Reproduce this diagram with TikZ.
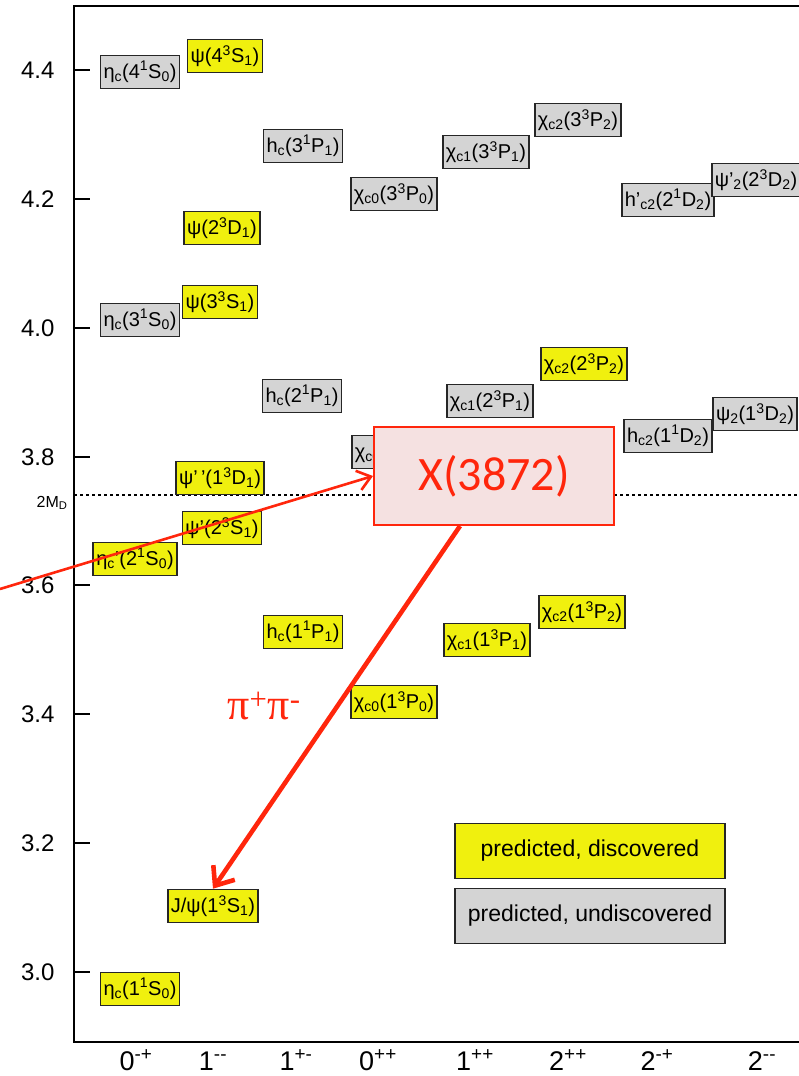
\documentclass[tikz,border=0pt]{standalone}
\usepackage{fontspec}
\setmainfont{Liberation Sans}
\newfontfamily\xfont{Carlito}
\newfontfamily\pifont{Liberation Serif}
\usepackage{tikz}
\usetikzlibrary{arrows.meta, positioning, calc}

\definecolor{seenyellow}{RGB}{240,240,14}
\definecolor{unseengray}{RGB}{212,212,212}
\definecolor{xred}{RGB}{255,38,12}
\definecolor{xpink}{RGB}{245,225,225}

\newcommand{\sbs}[1]{\textsubscript{#1}}
\newcommand{\sps}[1]{\textsuperscript{#1}}

\begin{document}
\begin{tikzpicture}[x=1pt, y=-1pt,
        state box/.style={draw=black!85, line width=1.6pt, inner xsep=3pt, inner ysep=0pt, minimum height=33pt, font=\fontsize{20}{24}\selectfont},
        seen state/.style={state box, fill=seenyellow},
        unseen state/.style={state box, fill=unseengray},
        key box/.style={minimum width=270pt, minimum height=55pt, font=\fontsize{23}{27}\selectfont},
        tick label/.style={anchor=east, font=\fontsize{24}{28}\selectfont},
        jpc label/.style={anchor=base, font=\fontsize{27}{32}\selectfont},
        arrow/.style={-{Straight Barb[length=13pt, width=20pt]}, xred, line width=2.6pt}
    ]
        \useasboundingbox (0,0) rectangle (799,1076);

        % frame and mass axis
        \draw[line width=1.8pt] (799,6) -- (74,6) -- (74,1042) -- (799,1042);
        \draw[line width=1.8pt] (74,70) -- ++(16,0);
        \draw[line width=1.8pt] (74,199) -- ++(16,0);
        \draw[line width=1.8pt] (74,328) -- ++(16,0);
        \draw[line width=1.8pt] (74,457) -- ++(16,0);
        \draw[line width=1.8pt] (74,585) -- ++(16,0);
        \draw[line width=1.8pt] (74,714) -- ++(16,0);
        \draw[line width=1.8pt] (74,843) -- ++(16,0);
        \draw[line width=1.8pt] (74,972) -- ++(16,0);
        \node[tick label] (m44) at (58,70) {4.4};
        \node[tick label] (m42) at (58,199) {4.2};
        \node[tick label] (m40) at (58,328) {4.0};
        \node[tick label] (m38) at (58,457) {3.8};
        \node[tick label] (m36) at (58,585) {3.6};
        \node[tick label] (m34) at (58,714) {3.4};
        \node[tick label] (m32) at (58,843) {3.2};
        \node[tick label] (m30) at (58,972) {3.0};

        % D Dbar threshold
        \draw[dash pattern=on 3pt off 3pt, line width=1.2pt] (74,495) -- (799,495);
        \node[anchor=east, font=\fontsize{16}{19}\selectfont] (dd) at (71,503) {2M\sbs{D}};

        % J^PC
        \node[jpc label] (q0mp) at (136,1070) {0\sps{-+}};
        \node[jpc label] (q1mm) at (213,1070) {1\sps{-{}-}};
        \node[jpc label] (q1pm) at (296,1070) {1\sps{+-}};
        \node[jpc label] (q0pp) at (378,1070) {0\sps{++}};
        \node[jpc label] (q1pp) at (475,1070) {1\sps{++}};
        \node[jpc label] (q2pp) at (568,1070) {2\sps{++}};
        \node[jpc label] (q2mp) at (657,1070) {2\sps{-+}};
        \node[jpc label] (q2mm) at (762,1070) {2\sps{-{}-}};

        % 0-+
        \node[unseen state] (etac4s) at (140,72) {η\sbs{c}(4\sps{1}S\sbs{0})};
        \node[unseen state] (etac3s) at (140,320) {η\sbs{c}(3\sps{1}S\sbs{0})};
        \node[seen state] (etac2s) at (135,559) {η\sbs{c}’(2\sps{1}S\sbs{0})};
        \node[seen state] (etac1s) at (140,989) {η\sbs{c}(1\sps{1}S\sbs{0})};
        % 1--
        \node[seen state] (psi4s) at (225,56) {ψ(4\sps{3}S\sbs{1})};
        \node[seen state] (psi2d) at (222,228) {ψ(2\sps{3}D\sbs{1})};
        \node[seen state] (psi3s) at (220,302) {ψ(3\sps{3}S\sbs{1})};
        \node[seen state] (psi1d) at (220,478) {ψ’\,’(1\sps{3}D\sbs{1})};
        \node[seen state] (psi2s) at (222,528) {ψ’(2\sps{3}S\sbs{1})};
        \node[seen state] (jpsi) at (213,906) {J/ψ(1\sps{3}S\sbs{1})};
        % 1+-
        \node[unseen state] (hc3p) at (303,146) {h\sbs{c}(3\sps{1}P\sbs{1})};
        \node[unseen state] (hc2p) at (302,396) {h\sbs{c}(2\sps{1}P\sbs{1})};
        \node[seen state] (hc1p) at (303,632) {h\sbs{c}(1\sps{1}P\sbs{1})};
        % 0++
        \node[unseen state] (chi03p) at (394,194) {χ\sbs{c0}(3\sps{3}P\sbs{0})};
        \node[unseen state] (chi02p) at (395,452) {χ\sbs{c0}(2\sps{3}P\sbs{0})};
        \node[seen state] (chi01p) at (394,702) {χ\sbs{c0}(1\sps{3}P\sbs{0})};
        % 1++
        \node[unseen state] (chi13p) at (486,152) {χ\sbs{c1}(3\sps{3}P\sbs{1})};
        \node[unseen state] (chi12p) at (490,401) {χ\sbs{c1}(2\sps{3}P\sbs{1})};
        \node[seen state] (chi11p) at (487,640) {χ\sbs{c1}(1\sps{3}P\sbs{1})};
        % 2++
        \node[unseen state] (chi23p) at (578,120) {χ\sbs{c2}(3\sps{3}P\sbs{2})};
        \node[seen state] (chi22p) at (584,364) {χ\sbs{c2}(2\sps{3}P\sbs{2})};
        \node[seen state] (chi21p) at (582,612) {χ\sbs{c2}(1\sps{3}P\sbs{2})};
        % 2-+ and 2--
        \node[unseen state] (hc22d) at (668,200) {h’\sbs{c2}(2\sps{1}D\sbs{2})};
        \node[unseen state] (hc21d) at (668,436) {h\sbs{c2}(1\sps{1}D\sbs{2})};
        \node[unseen state] (psi22d) at (756,180) {ψ’\sbs{2}(2\sps{3}D\sbs{2})};
        \node[unseen state] (psi21d) at (755,414) {ψ\sbs{2}(1\sps{3}D\sbs{2})};

        % key
        \node[seen state, key box] (key seen) at (590,851) {predicted, discovered};
        \node[unseen state, key box] (key unseen) at (590,916) {predicted, undiscovered};

        % X(3872) and its decay
        \node[draw=xred, fill=xpink, line width=2pt, minimum width=240pt, minimum height=98pt, text=xred, font=\xfont\fontsize{48}{56}\selectfont] (xbox) at (494,476) {X(3872)};
        \node[text=xred, font=\pifont\fontsize{44}{50}\selectfont] (pipi) at (264,706) {π\sps{+}π\sps{-}};

        \coordinate (feed) at (0,589);
        \coordinate (decay) at ([xshift=-34pt]xbox.south);
        \draw[arrow] (feed) -- (xbox.west);
        \draw[arrow, line width=4.6pt, -{Straight Barb[length=16pt, width=26pt]}] (decay) -- (jpsi.north);
    \end{tikzpicture}
\end{document}
